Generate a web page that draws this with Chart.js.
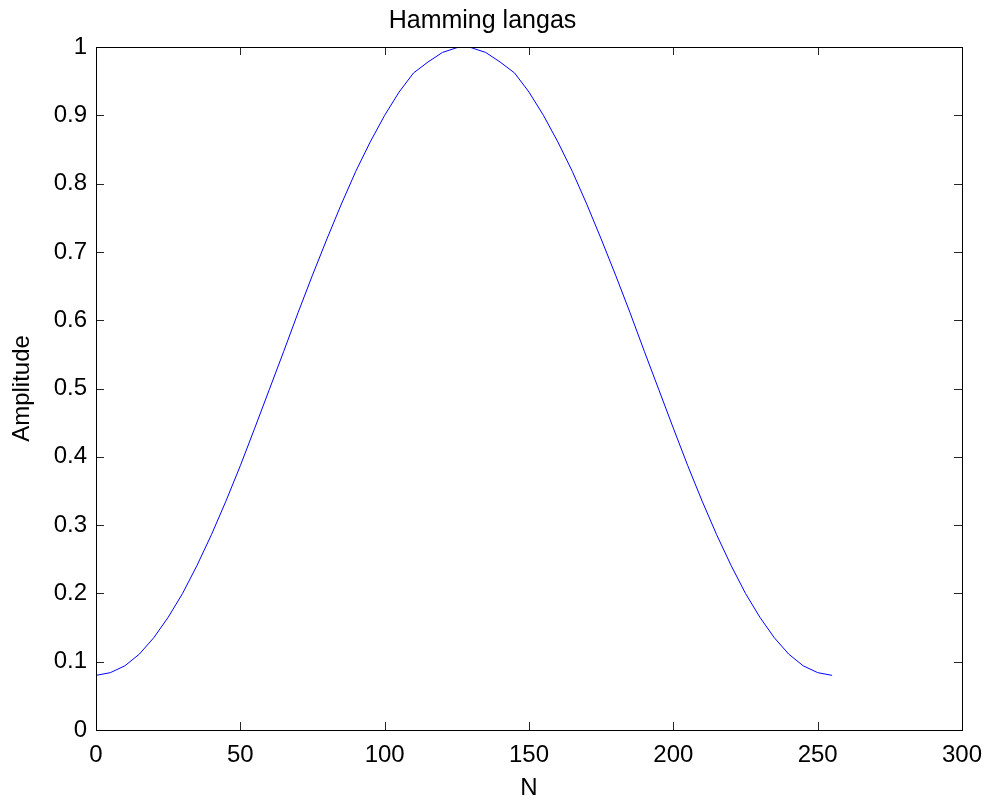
<!DOCTYPE html>
<html lang="lt">
<head>
    <meta charset="UTF-8">
    <title>Hamming langas</title>
    <script src="https://cdn.jsdelivr.net/npm/chart.js@4.4.3/dist/chart.umd.min.js"></script>
    <style>
        html, body { margin: 0; padding: 0; background: #ffffff; }
        #wrap { width: 993px; height: 800px; }
    </style>
</head>
<body>
    <div id="wrap"><canvas id="windowChart"></canvas></div>
    <script>
        // Sample index and window amplitude
        const sampleN = [0, 5, 10, 15, 20, 25, 30, 35, 40, 45, 50, 55, 60, 65, 70, 75, 80, 85, 90, 95,
            100, 105, 110, 115, 120, 125, 127, 128, 130, 135, 140, 145, 150, 155, 160, 165, 170, 175,
            180, 185, 190, 195, 200, 205, 210, 215, 220, 225, 230, 235, 240, 245, 250, 255];
        const amplitude = [0.080, 0.084, 0.094, 0.111, 0.135, 0.165, 0.200, 0.241, 0.286, 0.335,
            0.387, 0.442, 0.498, 0.554, 0.611, 0.666, 0.719, 0.770, 0.818, 0.861,
            0.900, 0.934, 0.962, 0.978, 0.992, 0.999, 1.000, 1.000, 0.999, 0.992,
            0.978, 0.962, 0.934, 0.900, 0.861, 0.818, 0.770, 0.719, 0.666, 0.611,
            0.554, 0.498, 0.442, 0.387, 0.335, 0.286, 0.241, 0.200, 0.165, 0.135,
            0.111, 0.094, 0.084, 0.080];
        const xTicks = [0, 50, 100, 150, 200, 250, 300];
        const yTicks = [0, 0.1, 0.2, 0.3, 0.4, 0.5, 0.6, 0.7, 0.8, 0.9, 1];

        const points = sampleN.map((n, i) => ({ x: n, y: amplitude[i] }));
        const fontFamily = '"Liberation Sans", Arial, sans-serif';

        // Box round the plot with short inward ticks on every side
        const boxTicks = {
            id: 'boxTicks',
            afterDatasetsDraw(chart) {
                const { ctx, chartArea: a, scales } = chart;
                const len = 8;
                ctx.save();
                ctx.strokeStyle = '#262626';
                ctx.lineWidth = 1;
                ctx.beginPath();
                xTicks.forEach(v => {
                    const px = Math.round(scales.x.getPixelForValue(v)) + 0.5;
                    ctx.moveTo(px, a.bottom); ctx.lineTo(px, a.bottom - len);
                    ctx.moveTo(px, a.top); ctx.lineTo(px, a.top + len);
                });
                yTicks.forEach(v => {
                    const py = Math.round(scales.y.getPixelForValue(v)) + 0.5;
                    ctx.moveTo(a.left, py); ctx.lineTo(a.left + len, py);
                    ctx.moveTo(a.right, py); ctx.lineTo(a.right - len, py);
                });
                ctx.stroke();
                ctx.strokeStyle = '#000000';
                ctx.strokeRect(Math.round(a.left) + 0.5, Math.round(a.top) + 0.5,
                    Math.round(a.right - a.left), Math.round(a.bottom - a.top));
                ctx.restore();
            }
        };

        new Chart(document.getElementById('windowChart'), {
            type: 'line',
            data: {
                datasets: [{
                    data: points,
                    borderColor: '#0000ff',
                    borderWidth: 1,
                    pointRadius: 0,
                    fill: false,
                    tension: 0
                }]
            },
            options: {
                responsive: true,
                maintainAspectRatio: false,
                animation: false,
                layout: { padding: { left: 0, right: 28, top: 0, bottom: 0 } },
                plugins: {
                    legend: { display: false },
                    tooltip: { enabled: false },
                    title: {
                        display: true,
                        text: 'Hamming langas',
                        color: '#000000',
                        font: { family: fontFamily, size: 25, weight: 'normal' },
                        padding: { top: 6, bottom: 11 }
                    }
                },
                scales: {
                    x: {
                        type: 'linear',
                        min: 0,
                        max: 300,
                        afterBuildTicks: s => { s.ticks = xTicks.map(v => ({ value: v })); },
                        afterFit: s => { s.height = 70; },
                        grid: { display: false, drawTicks: false },
                        border: { display: false },
                        ticks: {
                            color: '#000000',
                            padding: 11,
                            maxRotation: 0,
                            font: { family: fontFamily, size: 24 }
                        },
                        title: {
                            display: true,
                            text: 'N',
                            color: '#000000',
                            font: { family: fontFamily, size: 24 },
                            padding: { top: 0, bottom: -3 }
                        }
                    },
                    y: {
                        type: 'linear',
                        min: 0,
                        max: 1,
                        afterBuildTicks: s => { s.ticks = yTicks.map(v => ({ value: v })); },
                        afterFit: s => { s.width = 96; },
                        grid: { display: false, drawTicks: false },
                        border: { display: false },
                        ticks: {
                            color: '#000000',
                            padding: 9,
                            font: { family: fontFamily, size: 24 },
                            callback: v => String(Math.round(v * 10) / 10)
                        },
                        title: {
                            display: true,
                            text: 'Amplitude',
                            color: '#000000',
                            font: { family: fontFamily, size: 24 },
                            padding: { top: 8, bottom: 0 }
                        }
                    }
                }
            },
            plugins: [boxTicks]
        });
    </script>
</body>
</html>
